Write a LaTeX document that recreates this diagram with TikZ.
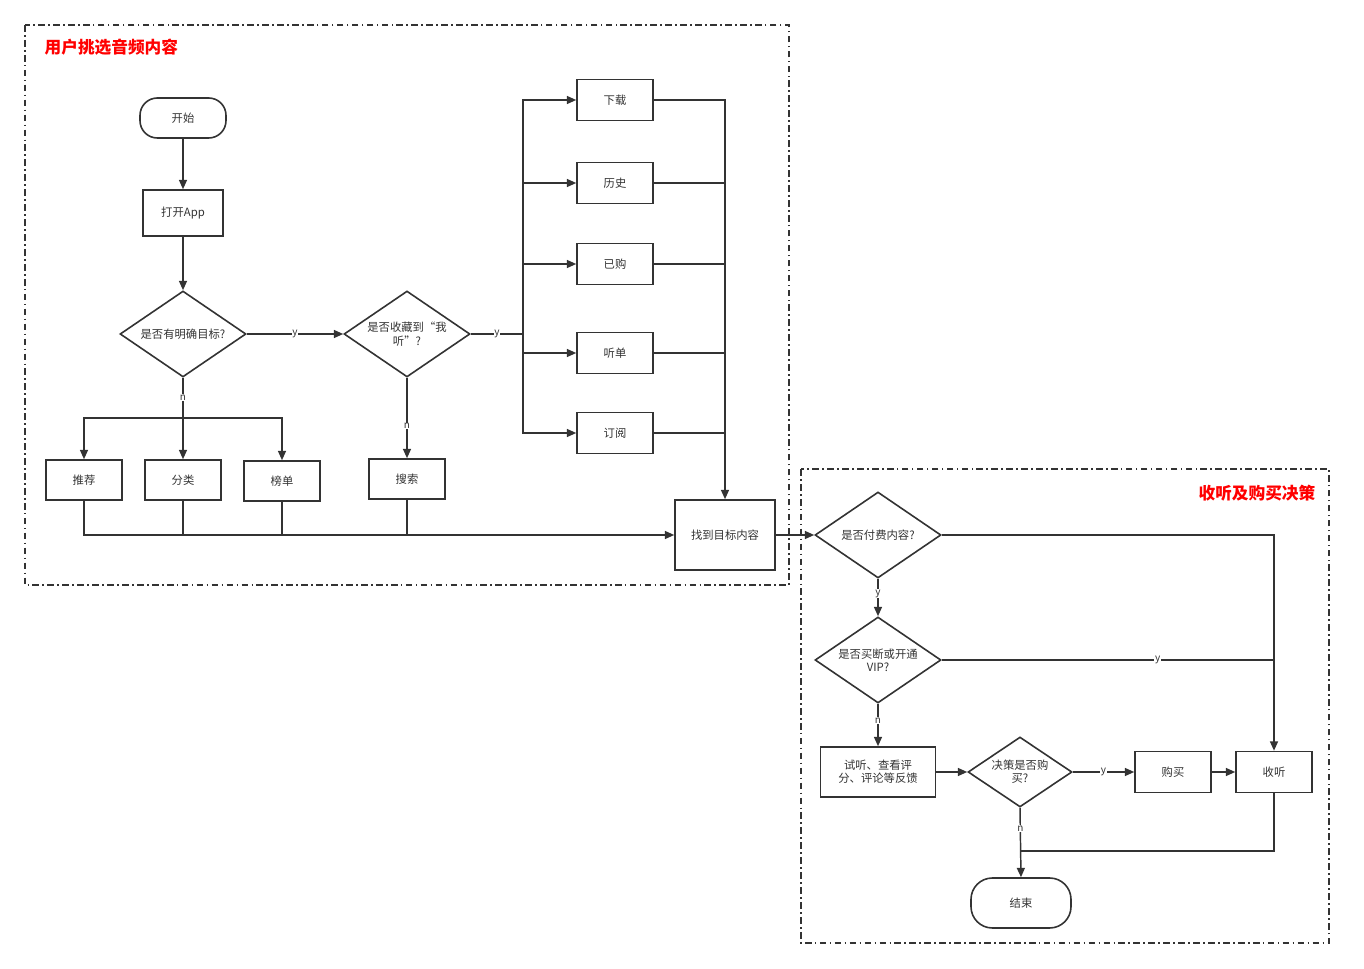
\documentclass[tikz,border=0pt]{standalone}
\usepackage{fontspec}
\setmainfont{Noto Sans CJK SC}
\usetikzlibrary{shapes.geometric,arrows.meta}
\definecolor{ln}{HTML}{333333}
\begin{document}
\begin{tikzpicture}[x=0.75pt,y=-0.75pt,
  every node/.style={font=\fontsize{8.5pt}{10pt}\selectfont, text=ln},
  box/.style={draw=ln, line width=1.2pt, rectangle, minimum width=57pt, minimum height=30.75pt, inner sep=1pt, align=center},
  term/.style={draw=ln, line width=1.2pt, rectangle, rounded corners=13pt, minimum width=64.5pt, minimum height=30pt},
  dia/.style={draw=ln, line width=1.2pt, diamond, aspect=1.47, minimum width=94.5pt, minimum height=64.5pt, inner sep=0pt, align=center},
  con/.style={draw=ln, line width=1.1pt},
  arr/.style={con, -{Triangle[length=7pt,width=6pt]}},
  lab/.style={fill=white, inner sep=0.5pt, font=\fontsize{7.5pt}{8pt}\selectfont},
  region/.style={draw=ln, line width=1pt, dash pattern=on 5pt off 2.5pt on 1.2pt off 2.5pt},
  ttl/.style={text=red, font=\bfseries\fontsize{12.5pt}{14pt}\selectfont}]
\useasboundingbox (0,0) rectangle (1364,969);
\draw[region] (25,25) rectangle (789,585);
\draw[region] (801,469) rectangle (1329,943);
\node[ttl, anchor=west] (t1) at (40,47) {用户挑选音频内容};
\node[ttl, anchor=east] (t2) at (1320,493) {收听及购买决策};

\node[term] (start) at (183,118) {开始};
\node[box, minimum width=60pt, minimum height=34.5pt] (app) at (183,213) {打开App};
\node[dia] (d1) at (183,334) {是否有明确目标?};
\node[dia] (d2) at (407,334) {是否收藏到“我\\听”?};
\node[box] (dl) at (615,100) {下载};
\node[box] (ls) at (615,183) {历史};
\node[box] (yg) at (615,264) {已购};
\node[box] (td) at (615,353) {听单};
\node[box] (dy) at (615,433) {订阅};
\node[box, minimum height=30pt] (tj) at (84,480) {推荐};
\node[box, minimum height=30pt] (fl) at (183,480) {分类};
\node[box, minimum height=30pt] (bd) at (282,481) {榜单};
\node[box, minimum height=30pt] (ss) at (407,479) {搜索};
\node[box, minimum width=75pt, minimum height=52.5pt] (find) at (725,535) {找到目标内容};
\node[dia] (d3) at (878,535) {是否付费内容?};
\node[dia] (d4) at (878,660) {是否买断或开通\\VIP?};
\node[box, minimum width=86.25pt, minimum height=37.5pt] (try) at (878,772) {试听、查看评\\分、评论等反馈};
\node[dia, aspect=1.49, minimum width=78pt, minimum height=52.5pt] (d5) at (1020,772) {决策是否购\\买?};
\node[box] (buy) at (1173,772) {购买};
\node[box] (lis) at (1274,772) {收听};
\node[term, minimum width=75pt, minimum height=37.5pt, rounded corners=16pt] (end) at (1021,903) {结束};

\coordinate (bus) at (523,334);
\coordinate (col) at (725,334);
\coordinate (j1) at (183,418);
\coordinate (j2) at (1274,851);

\draw[arr] (start) -- (app);
\draw[arr] (app) -- (d1);
\draw[arr] (d1) -- node[lab,pos=0.5]{y} (d2);
\draw[con] (d2.east) -- node[lab]{y} (bus);
\foreach \n in {dl,ls,yg,td,dy}{
  \draw[arr] (bus) |- (\n.west);
  \draw[con] (\n.east) -| (col);
}
\draw[arr] (col |- dl.east) -- (find.north);
\draw[con] (d1.south) -- node[lab]{n} (j1);
\draw[arr] (j1) -| (tj.north);
\draw[arr] (j1) -- (fl.north);
\draw[arr] (j1) -| (bd.north);
\draw[arr] (d2.south) -- node[lab,pos=0.6]{n} (ss.north);
\draw[arr] (tj.south) |- (find.west);
\foreach \n in {fl,bd,ss}{\draw[con] (\n.south) -- (\n.south |- find.west);}
\draw[arr] (find) -- (d3);
\draw[arr] (d3.east) -| (lis.north);
\draw[arr] (d3.south) -- node[lab,pos=0.4]{y} (d4.north);
\draw[con] (d4.east) -- node[lab,pos=0.65]{y} (d4.east -| lis);
\draw[arr] (d4.south) -- node[lab,pos=0.4]{n} (try.north);
\draw[arr] (try) -- (d5);
\draw[arr] (d5) -- node[lab,pos=0.5]{y} (buy);
\draw[arr] (buy) -- (lis);
\draw[arr] (d5.south) -- node[lab,pos=0.3]{n} (end.north);
\draw[con] (lis.south) -- (j2) -- (j2 -| end);
\end{tikzpicture}
\end{document}
